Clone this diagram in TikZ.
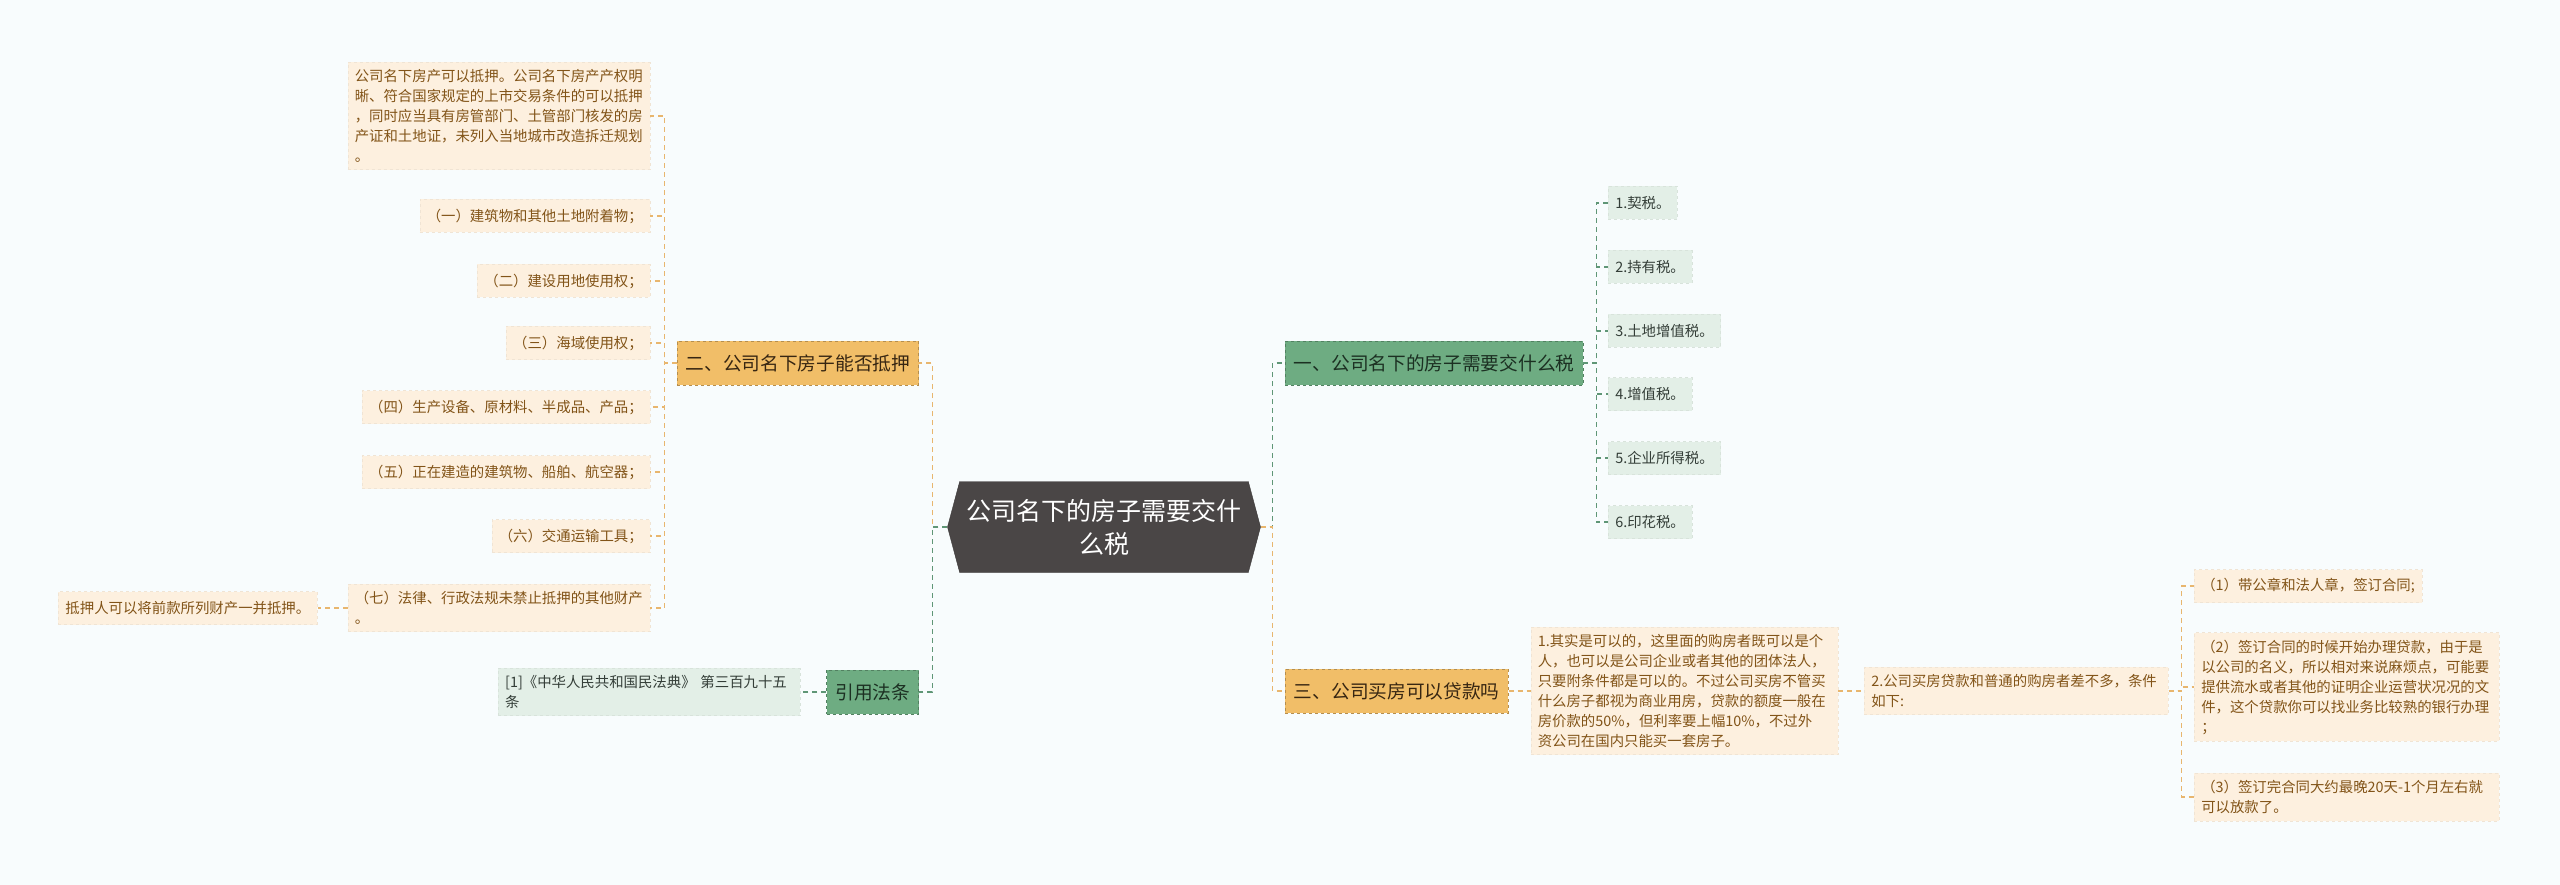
\documentclass[tikz,border=0pt]{standalone}
\usepackage{fontspec}
\setmainfont{Noto Sans CJK SC}
\usetikzlibrary{positioning, shapes.symbols}

\definecolor{bgcolor}{RGB}{248,252,253}
\definecolor{rootgray}{RGB}{74,70,70}
\definecolor{branchorange}{RGB}{241,190,104}
\definecolor{branchgreen}{RGB}{110,172,130}
\definecolor{leaforange}{RGB}{253,240,223}
\definecolor{leafgreen}{RGB}{227,239,231}
\definecolor{textbrown}{RGB}{130,84,24}
\definecolor{textgray}{RGB}{52,62,56}
\definecolor{textdark}{RGB}{55,38,18}
\definecolor{textgreen}{RGB}{28,48,34}
\definecolor{lineorange}{RGB}{232,182,110}
\definecolor{linegreen}{RGB}{95,150,118}

\begin{document}
\begin{tikzpicture}[
    x=1pt, y=-1pt,
    root/.style={signal, signal to=west and east, signal pointer angle=150, fill=rootgray, draw=rootgray!80!black, text=white, minimum width=313pt, minimum height=91pt, align=center, font=\fontsize{25}{33}\selectfont},
    branch/.style={dashed, line width=0.8pt, minimum height=44pt, inner xsep=8.5pt, inner ysep=0pt, font=\fontsize{18.7}{24}\selectfont},
    orangebranch/.style={branch, fill=branchorange, draw=branchorange!75!black, text=textdark},
    greenbranch/.style={branch, fill=branchgreen, draw=branchgreen!75!black, text=textgreen},
    leaf/.style={dashed, line width=0.5pt, inner xsep=7pt, inner ysep=7pt, minimum height=33pt, align=left, font=\fontsize{14.4}{20}\selectfont},
    orangeleaf/.style={leaf, fill=leaforange, draw=leaforange!95!black, text=textbrown},
    greenleaf/.style={leaf, fill=leafgreen, draw=leafgreen!95!black, text=textgray},
    orangeline/.style={draw=lineorange, line width=1.3pt, dash pattern=on 5pt off 4pt},
    greenline/.style={draw=linegreen, line width=1.3pt, dash pattern=on 5pt off 4pt}
]

\useasboundingbox[fill=bgcolor] (0,0) rectangle (2560,885);

% centre and main branches
\node[root] (root) at (1104,527) {公司名下的房子需要交什\\么税};
\node[orangebranch, anchor=east] (pledge) at (919,363) {二、公司名下房子能否抵押};
\node[greenbranch, anchor=east] (law) at (919,692) {引用法条};
\node[greenbranch, anchor=west] (tax) at (1285,363) {一、公司名下的房子需要交什么税};
\node[orangebranch, anchor=west] (loan) at (1285,691) {三、公司买房可以贷款吗};

% pledge items
\node[orangeleaf, anchor=east, text width=288pt] (p0) at (650,116) {公司名下房产可以抵押。公司名下房产产权明\\晰、符合国家规定的上市交易条件的可以抵押\\，同时应当具有房管部门、土管部门核发的房\\产证和土地证，未列入当地城市改造拆迁规划\\。};
\foreach \y/\t [count=\i] in {216/{（一）建筑物和其他土地附着物；}, 281/{（二）建设用地使用权；}, 343/{（三）海域使用权；}, 407/{（四）生产设备、原材料、半成品、产品；}, 472/{（五）正在建造的建筑物、船舶、航空器；}, 536/{（六）交通运输工具；}}
    \node[orangeleaf, anchor=east] (p\i) at (650,\y) {\t};
\node[orangeleaf, anchor=east, text width=288pt] (p7) at (650,608) {（七）法律、行政法规未禁止抵押的其他财产\\。};
\node[orangeleaf, left=30pt of p7] (p7a) {抵押人可以将前款所列财产一并抵押。};

% law item
\node[greenleaf, left=26pt of law, text width=288pt] (cite) {[1]《中华人民共和国民法典》 第三百九十五\\条};

% tax items
\foreach \y/\t [count=\i] in {203/1.契税。, 267/2.持有税。, 331/3.土地增值税。, 394/4.增值税。, 458/5.企业所得税。, 522/6.印花税。}
    \node[greenleaf, anchor=west] (t\i) at (1608,\y) {\t};

% loan items
\node[orangeleaf, right=22pt of loan, text width=293pt] (l1) {1.其实是可以的，这里面的购房者既可以是个\\人，也可以是公司企业或者其他的团体法人，\\只要附条件都是可以的。不过公司买房不管买\\什么房子都视为商业用房，贷款的额度一般在\\房价款的50\%，但利率要上幅10\%，不过外\\资公司在国内只能买一套房子。};
\node[orangeleaf, right=26pt of l1, text width=290pt] (l2) {2.公司买房贷款和普通的购房者差不多，条件\\如下:};
\node[orangeleaf, anchor=west] (c1) at (2194,586) {（1）带公章和法人章，签订合同;};
\node[orangeleaf, anchor=west, text width=291pt] (c2) at (2194,687) {（2）签订合同的时候开始办理贷款，由于是\\以公司的名义，所以相对来说麻烦点，可能要\\提供流水或者其他的证明企业运营状况况的文\\件，这个贷款你可以找业务比较熟的银行办理\\；};
\node[orangeleaf, anchor=west, text width=291pt] (c3) at (2194,797) {（3）签订完合同大约最晚20天-1个月左右就\\可以放款了。};

% connectors
\foreach \n in {p0,p1,p2,p3,p4,p5,p6,p7}
    \draw[orangeline] (pledge.west) -- ++(-12,0) |- (\n.east);
\draw[orangeline] (p7.west) -- (p7a.east);
\draw[greenline] (law.west) -- (cite.east);
\foreach \n in {t1,t2,t3,t4,t5,t6}
    \draw[greenline] (tax.east) -- ++(13,0) |- (\n.west);
\draw[orangeline] (loan.east) -- (l1.west);
\draw[orangeline] (l1.east) -- (l2.west);
\foreach \n in {c1,c2,c3}
    \draw[orangeline] (l2.east) -- ++(13,0) |- (\n.west);

\draw[orangeline] (root.west) -- ++(-15,0) |- (pledge.east);
\draw[greenline] (root.west) -- ++(-15,0) |- (law.east);
\draw[greenline] (root.east) -- ++(12,0) |- (tax.west);
\draw[orangeline] (root.east) -- ++(12,0) |- (loan.west);

\end{tikzpicture}
\end{document}
